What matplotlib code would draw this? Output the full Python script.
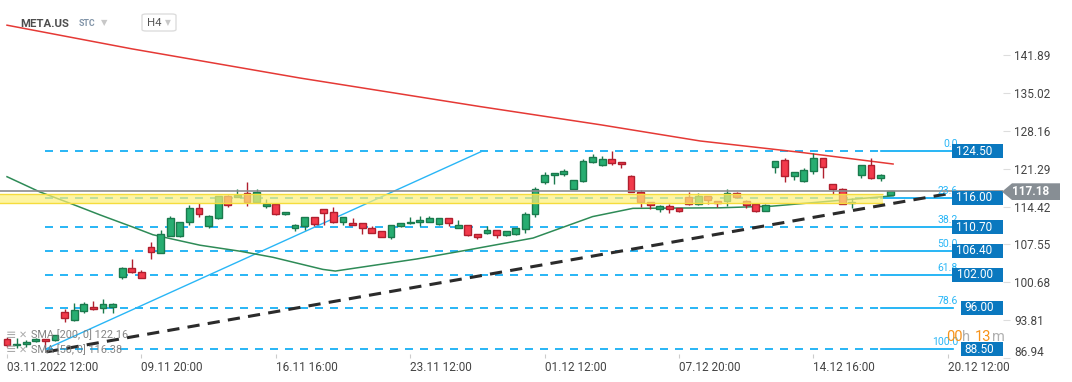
import matplotlib

matplotlib.use("Agg")
import matplotlib.pyplot as plt
import numpy as np
from matplotlib.patches import FancyBboxPatch, Polygon, Rectangle
from matplotlib.transforms import blended_transform_factory

plt.rcParams["font.family"] = ["Roboto", "DejaVu Sans"]

# META.US H4 candles (one per 4h bar)
opens = [90.3, 89.3, 89.4, 89.9, 90.3, 90.2, 95.3, 93.8, 95.4, 96.1, 95.9, 96.2,
         101.7, 103.2, 102.6, 107.1, 105.9, 109.1, 109.1, 111.6, 114.1, 110.8, 112.3, 116.3,
         116.2, 116.8, 115.3, 114.5, 114.9, 113.0, 110.6, 110.8, 112.5, 113.9, 113.4, 111.6,
         111.4, 111.4, 110.6, 109.9, 108.8, 110.8, 111.4, 111.6, 111.7, 111.2, 112.3, 110.6,
         111.0, 109.4, 109.6, 110.1, 109.2, 109.4, 110.3, 113.0, 118.9, 120.1, 120.3, 117.7,
         119.0, 122.5, 121.9, 123.0, 122.5, 119.9, 117.0, 115.2, 113.9, 114.5, 114.1, 116.1,
         114.8, 116.3, 115.4, 115.4, 116.8, 115.4, 114.8, 113.7, 121.7, 122.8, 119.9, 119.0,
         120.8, 123.2, 118.5, 117.7, 115.0, 120.1, 121.9, 119.7, 116.6]
highs = [90.7, 90.5, 90.2, 90.6, 90.4, 91.1, 95.8, 96.9, 97.0, 97.3, 97.7, 96.9,
         103.4, 104.9, 102.9, 107.9, 110.2, 112.7, 111.7, 114.7, 115.0, 112.8, 116.4, 116.5,
         117.6, 118.8, 117.6, 115.8, 115.0, 113.5, 111.2, 112.6, 112.6, 114.0, 114.3, 112.5,
         112.3, 111.5, 110.8, 110.0, 111.1, 111.5, 112.5, 112.7, 112.7, 112.4, 112.4, 111.9,
         111.1, 109.5, 110.8, 110.2, 110.0, 110.6, 113.4, 117.9, 120.7, 120.6, 121.2, 119.3,
         123.0, 123.9, 123.6, 124.5, 122.6, 120.2, 117.4, 115.3, 114.7, 114.8, 114.2, 117.0,
         116.8, 116.4, 115.5, 117.6, 117.0, 115.6, 115.0, 114.8, 122.7, 123.2, 120.7, 121.4,
         124.1, 123.3, 118.6, 117.8, 116.0, 122.0, 123.2, 120.3, 117.3]
lows = [88.9, 88.7, 88.9, 89.8, 88.5, 90.0, 93.4, 93.6, 95.0, 95.7, 95.1, 95.1,
        101.2, 102.3, 101.4, 104.8, 105.9, 109.1, 108.9, 111.1, 112.6, 110.6, 112.1, 114.3,
        116.1, 114.6, 115.2, 114.1, 112.9, 112.9, 109.9, 110.2, 110.8, 111.1, 111.4, 111.0,
        111.0, 109.4, 109.6, 108.8, 108.5, 110.7, 111.3, 110.8, 111.6, 111.1, 110.9, 110.5,
        109.0, 108.6, 109.5, 108.7, 109.1, 109.3, 109.7, 112.6, 118.6, 118.6, 119.9, 117.6,
        118.9, 122.4, 121.8, 121.9, 121.4, 117.0, 114.4, 114.0, 113.4, 113.2, 113.4, 114.7,
        114.7, 114.8, 114.3, 114.6, 116.0, 114.1, 113.4, 113.6, 120.5, 118.8, 119.2, 118.9,
        120.3, 119.7, 116.7, 114.8, 114.1, 119.7, 119.4, 119.0, 116.5]
closes = [89.3, 89.5, 89.8, 90.4, 89.9, 91.0, 94.1, 95.6, 96.7, 95.8, 96.7, 96.7,
          103.2, 102.5, 101.4, 106.1, 109.4, 112.3, 111.6, 114.1, 113.0, 112.7, 116.3, 114.7,
          116.5, 115.3, 117.1, 114.9, 113.0, 113.4, 111.1, 112.5, 111.2, 113.2, 111.6, 112.5,
          111.0, 110.5, 109.7, 108.8, 111.0, 111.4, 111.7, 111.9, 112.3, 112.3, 111.4, 111.0,
          109.2, 108.8, 110.1, 109.2, 109.9, 110.5, 113.0, 117.6, 120.2, 120.5, 120.8, 119.2,
          122.7, 123.4, 123.0, 122.3, 122.1, 117.0, 115.2, 114.7, 114.5, 113.9, 113.7, 114.8,
          116.3, 115.7, 115.1, 116.8, 116.1, 114.7, 113.7, 114.7, 122.7, 119.9, 120.7, 121.0,
          123.2, 121.6, 117.6, 114.8, 115.2, 121.9, 119.7, 120.1, 117.18]

# moving averages (bar index, value)
sma200_idx = [0, 13, 30.5, 49.3, 61.8, 72.2, 82.6, 92.3]
sma200_val = [147.4, 143.1, 137.8, 132.6, 129.3, 126.35, 124.3, 122.16]
sma50_idx = [0, 3.4, 6.6, 9.7, 13.1, 15.2, 20.1, 24.3, 27.7, 32.9, 34.2, 42.7, 47.9,
             54.8, 61.0, 65.2, 74.3, 79.7, 85.7, 92.3]
sma50_val = [119.85, 117.1, 115.0, 112.9, 110.7, 109.3, 107.4, 106.3, 105.2, 103.0, 102.7,
             104.9, 106.5, 108.7, 112.6, 114.1, 114.2, 114.5, 115.4, 116.38]

# fibonacci retracement drawn from the 88.50 low to the 124.50 high
fib_levels = [124.50, 116.00, 110.70, 106.40, 102.00, 96.00, 88.50]
fib_pcts = ["0.0", "23.6", "38.2", "50.0", "61.8", "78.6", "100.0"]
fib_labels = ["124.50", "116.00", "110.70", "106.40", "102.00", "96.00", "88.50"]
anchor_idx = [4, 49.5]
anchor_val = [88.5, 124.5]

trend_idx = [4.1, 98.5]
trend_val = [88.0, 116.9]

zone_low, zone_high = 115.0, 116.65
zone_end = 91.3
last_price = 117.18

tick_idx = [0, 14, 28, 42, 56, 70, 84, 98]
tick_labels = ["03.11.2022 12:00", "09.11 20:00", "16.11 16:00", "23.11 12:00",
               "01.12 12:00", "07.12 20:00", "14.12 16:00", "20.12 12:00"]
ytick_vals = [141.89, 135.02, 128.16, 121.29, 114.42, 107.55, 100.68, 93.81, 86.94]

GREEN, GREEN_EDGE = "#27ad71", "#1a7a4d"
RED, RED_EDGE = "#f23a4b", "#b01f2e"
FIB = "#03a9f4"

W, H = 1072, 382
fig = plt.figure(figsize=(W / 100, H / 100), dpi=100)
ax_w_px, ax_h_px = 1003, 358
ax = fig.add_axes([0, 1 - ax_h_px / H, ax_w_px / W, ax_h_px / H])
ylo, yhi = 86.89, 151.98
ax.set_xlim(-0.73, 103.75)
ax.set_ylim(ylo, yhi)
ypp = (yhi - ylo) / ax_h_px  # price per pixel
blend = blended_transform_factory(ax.transAxes, ax.transData)


def fx(px):
    return px / W


def fy(py):
    return 1 - py / H


# fib levels
fib_start, fib_split, fib_end = 4, 91, 98.5
for lvl, pct, lab in zip(fib_levels, fib_pcts, fib_labels):
    ax.plot([fib_start, fib_split], [lvl, lvl], color=FIB, lw=1.2,
            linestyle=(0, (4.8, 4.2)), zorder=1)
    ax.plot([fib_split, fib_end], [lvl, lvl], color=FIB, lw=1.2, zorder=1)
    ax.text(958 / ax_w_px, lvl + 2 * ypp, pct, transform=blend, ha="right", va="bottom",
            color="#29b6f6", fontsize=7.5, zorder=6)
    bw = 8.5 * len(lab)
    ax.add_patch(Rectangle((1 - bw / ax_w_px, lvl - 7 * ypp), bw / ax_w_px, 14 * ypp,
                           transform=blend, facecolor="#0a78bf", edgecolor="none",
                           zorder=7, clip_on=False))
    ax.text(1 - (bw / 2 + 3) / ax_w_px, lvl, lab, transform=blend, ha="center",
            va="center", color="white", fontsize=8.5, zorder=8)

ax.plot(anchor_idx, anchor_val, color="#29b6f6", lw=1, zorder=2)
ax.plot(sma200_idx, sma200_val, color="#e53935", lw=1.1, zorder=2)
ax.plot(sma50_idx, sma50_val, color="#2e8b57", lw=1.1, zorder=2)

# candles
o, h, l, c = map(np.array, (opens, highs, lows, closes))
x = np.arange(len(o))
up = c >= o
body_lo = np.minimum(o, c)
body_h = np.maximum(np.abs(c - o), 0.2)
ax.vlines(x[up], l[up], h[up], color=GREEN_EDGE, lw=1, zorder=3)
ax.vlines(x[~up], l[~up], h[~up], color=RED_EDGE, lw=1, zorder=3)
ax.bar(x[up], body_h[up], bottom=body_lo[up], width=0.7, color=GREEN,
       edgecolor=GREEN_EDGE, linewidth=1, zorder=3.5)
ax.bar(x[~up], body_h[~up], bottom=body_lo[~up], width=0.7, color=RED,
       edgecolor=RED_EDGE, linewidth=1, zorder=3.5)

# support zone
ax.fill_between([-1, zone_end], zone_low, zone_high, color="#fdf07a", alpha=0.7,
                lw=0, zorder=4)
ax.hlines([zone_low, zone_high], -1, zone_end, color="#f5dc3c", lw=1, zorder=4)

ax.axhline(last_price, color="#8c8c8c", lw=1.2, zorder=4.5)
ax.plot(trend_idx, trend_val, color="#2b2b2b", lw=2.2, linestyle=(0, (4, 2.7)),
        zorder=5)

for s in ax.spines.values():
    s.set_visible(False)
ax.yaxis.tick_right()
ax.set_yticks(ytick_vals)
ax.set_yticklabels([f"{v:.2f}" for v in ytick_vals[:-1]] + [""])
ax.annotate(f"{ytick_vals[-1]:.2f}", xy=(1, ytick_vals[-1]), xycoords=blend,
            xytext=(8, 3.5), textcoords="offset points", ha="left", va="center",
            fontsize=8.5, color="#444")
ax.tick_params(axis="y", length=5, color="#dddddd", pad=3, labelsize=8.5,
               labelcolor="#444")
ax.set_xticks(tick_idx)
ax.set_xticklabels(tick_labels, ha="left")
ax.tick_params(axis="x", length=3, direction="in", color="#cccccc", pad=2,
               labelsize=8.5, labelcolor="#444")

# current price flag
fig.add_artist(Polygon([(fx(1002), fy(191.7)), (fx(1012), fy(183.3)), (fx(1060), fy(183.3)),
                        (fx(1060), fy(200)), (fx(1012), fy(200))],
                       closed=True, transform=fig.transFigure, facecolor="#878e94",
                       edgecolor="none", zorder=10))
fig.text(fx(1031), fy(191.7), f"{last_price:.2f}", ha="center", va="center",
         color="white", fontsize=8.5, fontweight="bold", zorder=11)

# countdown
for px_, txt, col in [(946, "00", "#f7931a"), (962, "h", "#b0b0b0"),
                      (975, "13", "#f7931a"), (992, "m", "#b0b0b0")]:
    fig.text(fx(px_), fy(337), txt, ha="left", va="center", color=col, fontsize=10.5)

# header
fig.text(fx(20), fy(24), "META.US", ha="left", va="center", fontsize=8.2,
         fontweight="bold", color="#4d4d4d")
fig.text(fx(79), fy(24), "STC", ha="left", va="center", fontsize=6.3,
         fontweight="bold", color="#8194a8")
fig.text(fx(101), fy(23), "▼", ha="left", va="center", fontsize=6, color="#c8c8c8",
         family=["DejaVu Sans"])
fig.add_artist(FancyBboxPatch((fx(142), fy(31)), fx(34), 17 / H,
                              boxstyle="round,pad=0,rounding_size=0.004",
                              transform=fig.transFigure, facecolor="white",
                              edgecolor="#dddddd", linewidth=1))
fig.text(fx(147), fy(23), "H4", ha="left", va="center", fontsize=8.2, color="#555")
fig.text(fx(165), fy(23), "▼", ha="left", va="center", fontsize=5.5, color="#c8c8c8",
         family=["DejaVu Sans"])

# indicator legend
for py, txt in [(335, "SMA [200, 0] 122.16"), (350, "SMA [50, 0] 116.38")]:
    fig.text(fx(6), fy(py), "≡", ha="left", va="center", fontsize=9, color="#aaaaaa",
             family=["DejaVu Sans"])
    fig.text(fx(19), fy(py), "✕", ha="left", va="center", fontsize=7, color="#aaaaaa",
             family=["DejaVu Sans"])
    fig.text(fx(31), fy(py), txt, ha="left", va="center", fontsize=7.8, color="#777777",
             alpha=0.9)

fig.savefig("out.png", dpi=100)
